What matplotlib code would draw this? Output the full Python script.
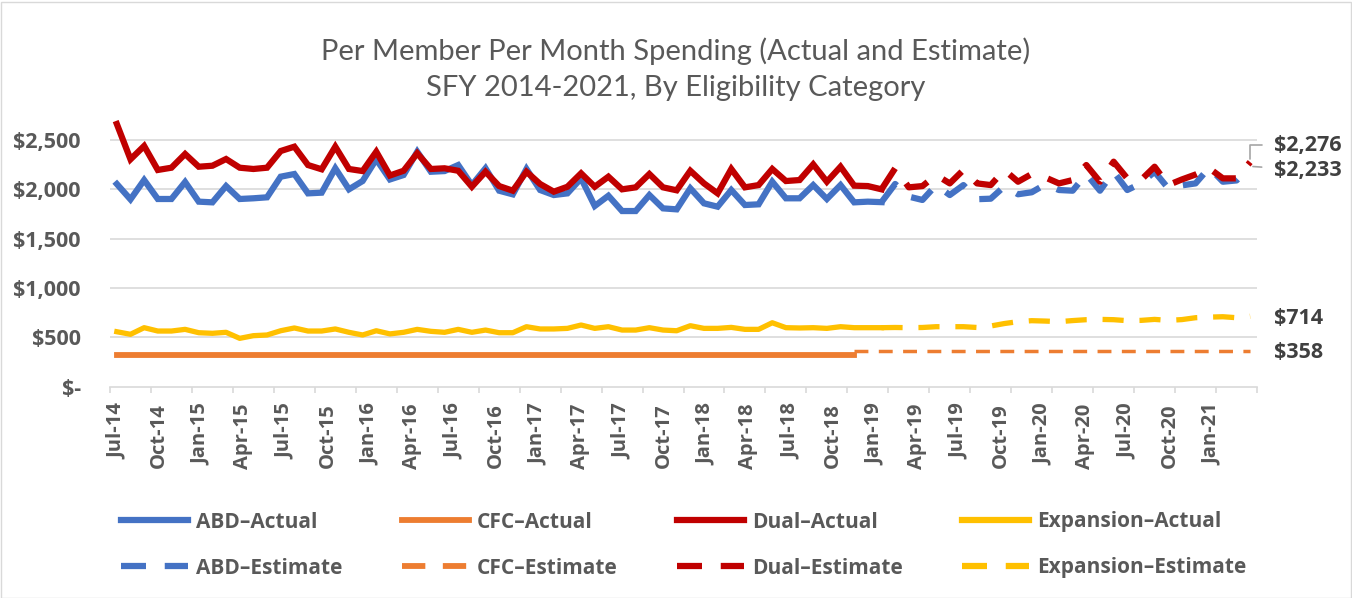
import numpy as np
import matplotlib
matplotlib.use("Agg")
import matplotlib.pyplot as plt
from matplotlib.lines import Line2D
from matplotlib.patches import Rectangle

# ---------------- data ----------------
quarter_labels = ["Jul-14", "Oct-14", "Jan-15", "Apr-15", "Jul-15", "Oct-15", "Jan-16",
                  "Apr-16", "Jul-16", "Oct-16", "Jan-17", "Apr-17", "Jul-17", "Oct-17",
                  "Jan-18", "Apr-18", "Jul-18", "Oct-18", "Jan-19", "Apr-19", "Jul-19",
                  "Oct-19", "Jan-20", "Apr-20", "Jul-20", "Oct-20", "Jan-21"]
n_months = 84  # Jul-14 .. Jun-21

abd_actual = [2054, 1898, 2094, 1902, 1902, 2074, 1875, 1868, 2033, 1902, 1909, 1919,
              2128, 2155, 1959, 1966, 2213, 2000, 2084, 2304, 2100, 2145, 2381, 2178,
              2185, 2246, 2043, 2213, 1986, 1949, 2206, 1993, 1942, 1959, 2111, 1831,
              1935, 1780, 1780, 1942, 1807, 1797, 2010, 1858, 1824, 1993, 1841, 1848,
              2077, 1909, 1909, 2043, 1902, 2043, 1868, 1875, 1870]
abd_estimate = [1870, 2054, 1926, 1892, 2043, 1942, 2043, 1900, 1905, 2030, 1950, 1970,
                2050, 1993, 1986, 2155, 1986, 2178, 1993, 2060, 2178, 2010, 2040, 2060,
                2220, 2077, 2090, 2233]

dual_actual = [2662, 2304, 2439, 2196, 2219, 2358, 2229, 2239, 2307, 2219, 2206, 2219,
               2388, 2432, 2246, 2203, 2432, 2206, 2185, 2381, 2140, 2188, 2365, 2206,
               2213, 2188, 2026, 2178, 2033, 1986, 2178, 2054, 1976, 2026, 2162, 2026,
               2128, 2000, 2020, 2155, 2020, 1990, 2188, 2060, 1959, 2206, 2020, 2043,
               2206, 2084, 2094, 2253, 2077, 2229, 2037, 2033, 2000]
dual_estimate = [2000, 2213, 2020, 2033, 2145, 2060, 2196, 2060, 2043, 2196, 2077, 2155,
                 2120, 2060, 2094, 2246, 2077, 2280, 2111, 2094, 2229, 2043, 2100, 2150,
                 2213, 2111, 2111, 2276]

exp_actual = [557, 531, 598, 564, 564, 581, 547, 541, 551, 490, 517, 524,
              567, 595, 564, 564, 585, 551, 524, 567, 535, 551, 581, 561,
              551, 581, 551, 574, 547, 547, 608, 585, 585, 591, 625, 591,
              608, 574, 574, 598, 574, 567, 618, 591, 591, 601, 581, 581,
              648, 598, 595, 598, 591, 608, 598, 598, 598]
exp_estimate = [598, 600, 598, 600, 608, 608, 608, 600, 615, 640, 659, 669,
                665, 659, 670, 679, 682, 679, 669, 672, 682, 672, 680, 699,
                705, 709, 699, 714]

cfc_actual = [320] * 55
cfc_estimate = [358] * 30

# ---------------- style ----------------
BLUE, ORANGE, RED, YELLOW = "#4472C4", "#ED7D31", "#C00000", "#FFC000"
TXT = "#595959"
GRID = "#D9D9D9"
TFONT = "Lato"        # title
BFONT = "Open Sans"   # bold labels

W, H = 1352, 598
fig = plt.figure(figsize=(W / 100, H / 100), dpi=100)
ax = fig.add_axes([110 / W, 1 - 386.7 / H, (1257 - 110) / W, (386.7 - 115.3) / H])

x_all = np.arange(n_months)
x_act = x_all[:len(abd_actual)]
x_est = x_all[n_months - len(abd_estimate):]
x_cfc_act = x_all[:len(cfc_actual)]
x_cfc_est = x_all[n_months - len(cfc_estimate):]

dash = (0, (4, 3))
ax.plot(x_act, abd_actual, color=BLUE, lw=4.5, solid_joinstyle="miter", zorder=3)
ax.plot(x_cfc_act, cfc_actual, color=ORANGE, lw=4.2, zorder=3)
ax.plot(x_act, dual_actual, color=RED, lw=4.5, solid_joinstyle="miter", zorder=3)
ax.plot(x_act, exp_actual, color=YELLOW, lw=3.8, zorder=3)
ax.plot(x_est, abd_estimate, color=BLUE, lw=4.5, ls=dash, zorder=3)
ax.plot(x_cfc_est, cfc_estimate, color=ORANGE, lw=2.5, ls=dash, zorder=3)
ax.plot(x_est, dual_estimate, color=RED, lw=4.5, ls=dash, zorder=3)
ax.plot(x_est, exp_estimate, color=YELLOW, lw=3.8, ls=dash, zorder=3)

ax.set_xlim(-0.5, n_months - 0.5)
ax.set_ylim(0, 2750)

# y axis
yt = [0, 500, 1000, 1500, 2000, 2500]
ax.set_yticks(yt)
ax.set_yticklabels(["$-"] + [f"${v:,}" for v in yt[1:]])
for v in yt[1:]:
    ax.axhline(v, color=GRID, lw=1.2, zorder=1)
ax.tick_params(axis="y", length=0, pad=21, labelsize=15.5, labelcolor=TXT)
for lab in ax.get_yticklabels():
    lab.set_fontfamily(BFONT)
    lab.set_fontweight("bold")

# x axis: boundary tick marks every quarter on the data axis
ax.set_xticks(np.arange(-0.5, n_months, 3))
ax.tick_params(axis="x", which="major", length=4.5, width=1.2, color=GRID,
               labelbottom=False)

# quarter labels (Excel spreads them slightly wider than the tick marks)
axl = ax.twiny()
axl.set_xlim(-0.5, 81.24)
axl.xaxis.set_ticks_position("bottom")
axl.xaxis.set_label_position("bottom")
axl.set_xticks(np.arange(len(quarter_labels)) * 3)
axl.set_xticklabels(quarter_labels, rotation=90)
axl.tick_params(axis="x", length=0, pad=12, labelsize=14.5, labelcolor=TXT,
                labelbottom=True, labeltop=False)
for lab in axl.get_xticklabels():
    lab.set_fontfamily(BFONT)
    lab.set_fontweight("bold")
for a in (ax, axl):
    for s in ["top", "right", "left"]:
        a.spines[s].set_visible(False)
axl.spines["bottom"].set_visible(False)
ax.spines["bottom"].set_color(GRID)
ax.spines["bottom"].set_linewidth(1.2)
ax.set_facecolor("none")

# data labels for the last estimate values
lab_kw = dict(textcoords="offset pixels", fontsize=15.5, fontweight="bold",
              family=BFONT, color="#404040", va="center", ha="left",
              annotation_clip=False)
leader = dict(arrowstyle="-", color="#A6A6A6", lw=1.2, shrinkA=7, shrinkB=2,
              connectionstyle="angle,angleA=0,angleB=90,rad=0")
ax.annotate(f"${dual_estimate[-1]:,}", xy=(x_est[-1], dual_estimate[-1]),
            xytext=(24, 17), arrowprops=leader, **lab_kw)
ax.annotate(f"${abd_estimate[-1]:,}", xy=(x_est[-1], abd_estimate[-1]),
            xytext=(24, -4), arrowprops=dict(arrowstyle="-", color="#A6A6A6", lw=1.2,
                                             shrinkA=7, shrinkB=2), **lab_kw)
ax.annotate(f"${exp_estimate[-1]:,}", xy=(x_est[-1], exp_estimate[-1]),
            xytext=(24, -2), **lab_kw)
ax.annotate(f"${cfc_estimate[-1]:,}", xy=(x_est[-1], cfc_estimate[-1]),
            xytext=(24, -1), **lab_kw)

# title
fig.text(0.5, 1 - 69.5 / H,
         "Per Member Per Month Spending (Actual and Estimate)\nSFY 2014-2021, By Eligibility Category",
         ha="center", va="center", fontsize=21, color=TXT, family=TFONT,
         linespacing=1.46)

# legend
handles = [
    Line2D([], [], color=BLUE, lw=4.5), Line2D([], [], color=BLUE, lw=4.5, ls=dash),
    Line2D([], [], color=ORANGE, lw=4.2), Line2D([], [], color=ORANGE, lw=4.2, ls=dash),
    Line2D([], [], color=RED, lw=4.5), Line2D([], [], color=RED, lw=4.5, ls=dash),
    Line2D([], [], color=YELLOW, lw=4.5), Line2D([], [], color=YELLOW, lw=4.5, ls=dash),
]
labels = ["ABD\u2013Actual", "ABD\u2013Estimate", "CFC\u2013Actual", "CFC\u2013Estimate",
          "Dual\u2013Actual", "Dual\u2013Estimate", "Expansion\u2013Actual",
          "Expansion\u2013Estimate"]
leg = fig.legend(handles, labels, ncol=4, loc="center",
                 bbox_to_anchor=(0.506, 1 - 545 / H), frameon=False,
                 prop=dict(family=BFONT, weight="bold", size=15),
                 handlelength=3.2, handletextpad=0.4, columnspacing=2.85,
                 labelspacing=1.2, labelcolor=TXT)

# chart border
fig.add_artist(Rectangle((0.5 / W, 0.5 / H), 1 - 2 / W, 1 - 2 / H,
                         transform=fig.transFigure, fill=False,
                         edgecolor=GRID, lw=1.0))

fig.savefig("out.png", dpi=100)
